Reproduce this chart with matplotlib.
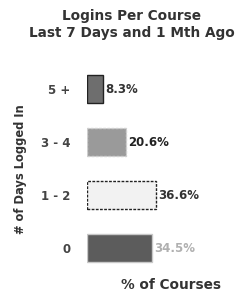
import matplotlib
matplotlib.use("Agg")
import matplotlib.pyplot as plt

# logins per course, share of courses per bucket
buckets = ["5 +", "3 - 4", "1 - 2", "0"]
pct_courses = [8.3, 20.6, 36.6, 34.5]
pct_labels = ["8.3%", "20.6%", "36.6%", "34.5%"]

# scanned look: each bar came out a different shade
bar_colors = ["#6e6e6e", "#9a9a9a", "#f2f2f2", "#5c5c5c"]
edge_colors = ["#222222", "#cfcfcf", "#222222", "#c8c8c8"]
label_colors = ["#333333", "#222222", "#333333", "#b0b0b0"]

plt.rcParams["font.family"] = ["DejaVu Sans"]

fig = plt.figure(figsize=(2.42, 3.04), dpi=100)
ax = fig.add_axes([0.36, 0.097, 0.58, 0.697])

ypos = list(range(len(buckets)))[::-1]
bars = ax.barh(ypos, pct_courses, height=0.52, color=bar_colors,
               edgecolor=edge_colors, linewidth=1.0)
bars[2].set_linestyle((0, (2, 1)))
bars[1].set_linestyle((0, (2, 1)))

for y, v, lab, c in zip(ypos, pct_courses, pct_labels, label_colors):
    ax.text(v + 1.2, y, lab, va="center", ha="left", fontsize=8.5,
            fontweight="bold", color=c)

ax.set_xlim(0, 75)
ax.set_ylim(-0.5, 3.5)
ax.set_yticks(ypos)
ax.set_yticklabels(buckets, fontsize=8.5, color="#444444", fontweight="bold")
ax.tick_params(axis="y", length=0, pad=12)
ax.set_xticks([])
for s in ax.spines.values():
    s.set_visible(False)

fig.text(0.545, 0.947, "Logins Per Course", ha="center", va="center",
         fontsize=9.8, fontweight="bold", color="#333333")
fig.text(0.545, 0.891, "Last 7 Days and 1 Mth Ago", ha="center", va="center",
         fontsize=9.8, fontweight="bold", color="#333333")
fig.text(0.083, 0.445, "# of Days Logged In", rotation=90, ha="center",
         va="center", fontsize=8.3, fontweight="bold", color="#333333")
fig.text(0.707, 0.062, "% of Courses", ha="center", va="center",
         fontsize=9.8, fontweight="bold", color="#333333")

fig.savefig("out.png", dpi=100)
